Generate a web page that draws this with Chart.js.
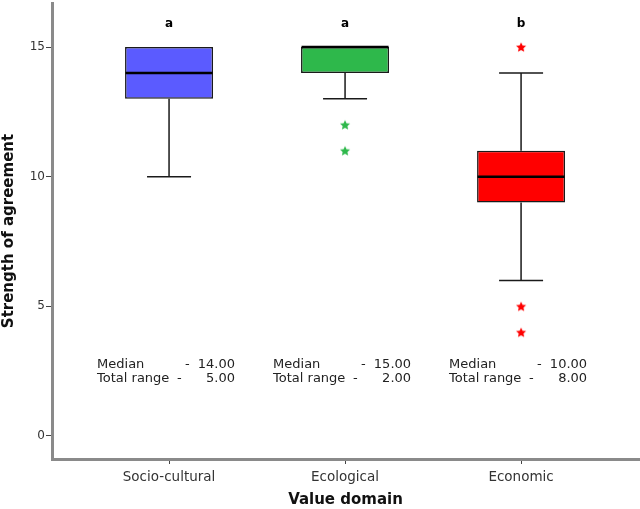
<!DOCTYPE html>
<html><head><meta charset="utf-8">
<script src="https://cdn.jsdelivr.net/npm/chart.js@4.4.1/dist/chart.umd.min.js"></script>
<style>html,body{margin:0;padding:0;background:#fff}#wrap{width:640px;height:509px;position:relative}</style>
</head><body><div id="wrap"><canvas id="c"></canvas></div>
<script>
const categories = ['Socio-cultural', 'Ecological', 'Economic'];
const whiskerLow = [10, 13, 6];
const q1 = [13, 14, 9];
const medians = [14, 15, 10];
const q3 = [15, 15, 11];
const whiskerHigh = [15, 15, 14];
const outliers = [[], [12, 11], [15, 5, 4]];
const sigLetters = ['a', 'a', 'b'];
const boxColors = ['#5b5bff', '#2eb84b', '#ff0000'];
const yTicks = [0, 5, 10, 15];
const xTitle = 'Value domain';
const yTitle = 'Strength of agreement';

const FONT = 'DejaVu Sans';

function makeStar(color) {
  const s = 12, c = document.createElement('canvas');
  c.width = s; c.height = s;
  const g = c.getContext('2d');
  g.fillStyle = color;
  g.beginPath();
  for (let i = 0; i < 10; i++) {
    const r = i % 2 === 0 ? 5.3 : 2.5;
    const a = -Math.PI / 2 + i * Math.PI / 5;
    const px = s / 2 + r * Math.cos(a), py = s / 2 + 0.5 + r * Math.sin(a);
    i === 0 ? g.moveTo(px, py) : g.lineTo(px, py);
  }
  g.closePath(); g.fill();
  return c;
}

const datasets = [{
  type: 'bar',
  data: categories.map((c, i) => ({ x: i + 1, y: [q1[i], q3[i]] })),
  backgroundColor: boxColors,
  borderColor: '#1a1a1a',
  borderWidth: 1.5,
  borderSkipped: false,
  barPercentage: 0.5,
  categoryPercentage: 1.0
}];
outliers.forEach((arr, i) => {
  datasets.push({
    type: 'scatter',
    data: arr.map(v => ({ x: i + 1, y: v })),
    pointStyle: makeStar(boxColors[i]),
    pointRadius: 5
  });
});

const boxPlugin = {
  id: 'boxExtras',
  afterDatasetsDraw(chart) {
    const { ctx, scales: { x, y } } = chart;
    ctx.save();
    categories.forEach((c, i) => {
      const cx = x.getPixelForValue(i + 1);
      const capHalf = (x.getPixelForValue(1.125) - x.getPixelForValue(1));
      const boxHalf = (x.getPixelForValue(1.25) - x.getPixelForValue(1));
      ctx.strokeStyle = '#1a1a1a';
      ctx.lineWidth = 1.5;
      ctx.beginPath();
      if (whiskerHigh[i] > q3[i]) {
        ctx.moveTo(cx, y.getPixelForValue(q3[i]));
        ctx.lineTo(cx, y.getPixelForValue(whiskerHigh[i]));
        ctx.moveTo(cx - capHalf, y.getPixelForValue(whiskerHigh[i]));
        ctx.lineTo(cx + capHalf, y.getPixelForValue(whiskerHigh[i]));
      }
      if (whiskerLow[i] < q1[i]) {
        ctx.moveTo(cx, y.getPixelForValue(q1[i]));
        ctx.lineTo(cx, y.getPixelForValue(whiskerLow[i]));
        ctx.moveTo(cx - capHalf, y.getPixelForValue(whiskerLow[i]));
        ctx.lineTo(cx + capHalf, y.getPixelForValue(whiskerLow[i]));
      }
      ctx.stroke();
      ctx.lineWidth = 2.5;
      ctx.strokeStyle = '#000';
      ctx.beginPath();
      const my = y.getPixelForValue(medians[i]);
      ctx.moveTo(cx - boxHalf + 0.5, my);
      ctx.lineTo(cx + boxHalf - 0.5, my);
      ctx.stroke();
      ctx.fillStyle = '#000';
      ctx.font = 'bold 12px "' + FONT + '"';
      ctx.textAlign = 'center';
      ctx.textBaseline = 'alphabetic';
      ctx.fillText(sigLetters[i], cx, 27);
      ctx.font = '13px "' + FONT + '"';
      ctx.fillStyle = '#222';
      ctx.textBaseline = 'middle';
      const l1 = y.getPixelForValue(2.8) + 1.5, l2 = l1 + 14;
      ctx.textAlign = 'left';
      ctx.fillText('Median', cx - 72, l1);
      ctx.fillText('Total range', cx - 72, l2);
      ctx.fillText('-', cx + 16, l1);
      ctx.fillText('-', cx + 8, l2);
      ctx.textAlign = 'right';
      ctx.fillText(medians[i].toFixed(2), cx + 66, l1);
      ctx.fillText((whiskerHigh[i] - whiskerLow[i]).toFixed(2), cx + 66, l2);
    });
    ctx.restore();
  }
};

new Chart(document.getElementById('c'), {
  type: 'bar',
  data: { datasets },
  plugins: [boxPlugin],
  options: {
    responsive: true,
    maintainAspectRatio: false,
    animation: false,
    layout: { autoPadding: false, padding: { top: 3, right: 1, left: 0, bottom: 0 } },
    plugins: { legend: { display: false }, tooltip: { enabled: false } },
    scales: {
      x: {
        type: 'linear',
        min: 0.335, max: 3.67,
        offset: false,
        afterBuildTicks: s => { s.ticks = categories.map((c, i) => ({ value: i + 1 })); },
        afterFit: s => { s.height = 50; s.paddingLeft = 0; s.paddingRight = 0; },
        ticks: {
          callback: (v) => categories[v - 1],
          font: { family: FONT, size: 13.5 }, color: '#333', padding: 5, maxRotation: 0, autoSkip: false
        },
        grid: { offset: false, drawOnChartArea: false, drawTicks: true, tickLength: 5, tickColor: '#444', tickWidth: 1 },
        border: { display: true, color: '#8a8a8a', width: 3 },
        title: { display: true, text: xTitle, font: { family: FONT, size: 15, weight: 'bold' }, color: '#111', padding: { top: 0, bottom: 0 } }
      },
      y: {
        type: 'linear',
        min: -0.887, max: 16.697,
        afterBuildTicks: s => { s.ticks = yTicks.map(v => ({ value: v })); },
        afterFit: s => { s.width = 52; s.paddingTop = 0; s.paddingBottom = 0; },
        ticks: { font: { family: FONT, size: 12 }, color: '#333', padding: 1 },
        grid: { drawOnChartArea: false, drawTicks: true, tickLength: 6, tickColor: '#444', tickWidth: 1 },
        border: { display: true, color: '#8a8a8a', width: 3 },
        title: { display: true, text: yTitle, font: { family: FONT, size: 15, weight: 'bold' }, color: '#111', padding: { top: 0, bottom: 0 } }
      }
    }
  }
});
</script>
</body></html>
